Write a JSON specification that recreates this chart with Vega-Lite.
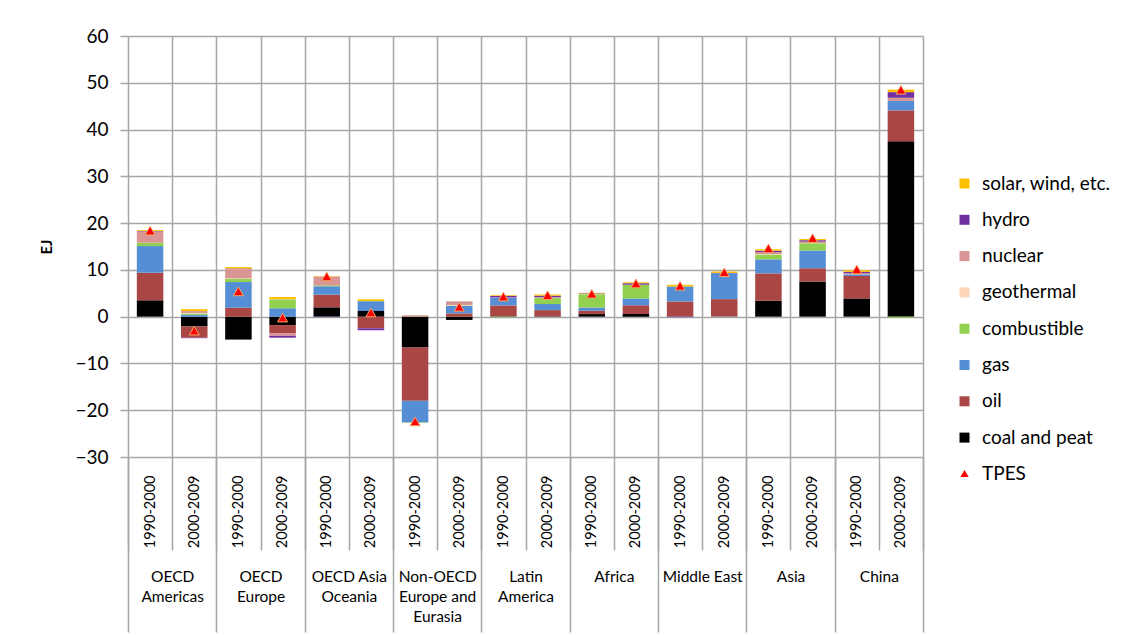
{
  "$schema": "https://vega.github.io/schema/vega-lite/v6.json",
  "width": 795,
  "height": 421,
  "autosize": "none",
  "padding": {"left": 128, "top": 36, "right": 204, "bottom": 178},
  "background": "white",
  "config": {
    "font": "Lato",
    "view": {"stroke": null},
    "axis": {"labelFont": "Lato", "titleFont": "Lato", "labelColor": "#000000", "titleColor": "#000000"},
    "legend": {"labelFont": "Lato", "labelColor": "#000000"}
  },
  "data": {
    "values": [
      {"region": "OECD|Americas", "period": "1990-2000", "coal": 3.5, "oil": 5.9, "gas": 5.7, "combustible": 0.7, "geothermal": 0, "nuclear": 2.4, "hydro": 0.1, "solar": 0.2, "TPES": 18.4},
      {"region": "OECD|Americas", "period": "2000-2009", "coal": -2.1, "oil": -2.4, "gas": 0.4, "combustible": 0.3, "geothermal": 0.1, "nuclear": 0.4, "hydro": -0.1, "solar": 0.4, "TPES": -3.0},
      {"region": "OECD|Europe", "period": "1990-2000", "coal": -4.9, "oil": 1.9, "gas": 5.5, "combustible": 0.7, "geothermal": 0.1, "nuclear": 2.0, "hydro": 0.1, "solar": 0.3, "TPES": 5.4},
      {"region": "OECD|Europe", "period": "2000-2009", "coal": -1.8, "oil": -1.8, "gas": 1.8, "combustible": 1.9, "geothermal": 0.05, "nuclear": -0.5, "hydro": -0.4, "solar": 0.45, "TPES": -0.2},
      {"region": "OECD Asia|Oceania", "period": "1990-2000", "coal": 2.0, "oil": 2.7, "gas": 1.8, "combustible": 0.2, "geothermal": 0, "nuclear": 1.9, "hydro": -0.1, "solar": 0.1, "TPES": 8.6},
      {"region": "OECD Asia|Oceania", "period": "2000-2009", "coal": 1.2, "oil": -2.4, "gas": 2.1, "combustible": 0.05, "geothermal": 0, "nuclear": -0.1, "hydro": -0.4, "solar": 0.35, "TPES": 0.9},
      {"region": "Non-OECD|Europe and|Eurasia", "period": "1990-2000", "coal": -6.6, "oil": -11.4, "gas": -4.6, "combustible": -0.1, "geothermal": 0, "nuclear": 0.2, "hydro": 0.05, "solar": 0.05, "TPES": -22.4},
      {"region": "Non-OECD|Europe and|Eurasia", "period": "2000-2009", "coal": -0.7, "oil": 0.7, "gas": 1.6, "combustible": 0.1, "geothermal": 0.1, "nuclear": 0.6, "hydro": 0.1, "solar": 0.05, "TPES": 2.1},
      {"region": "Latin|America", "period": "1990-2000", "coal": 0.1, "oil": 2.3, "gas": 1.6, "combustible": -0.1, "geothermal": 0.05, "nuclear": 0.05, "hydro": 0.35, "solar": 0.15, "TPES": 4.3},
      {"region": "Latin|America", "period": "2000-2009", "coal": 0.1, "oil": 1.3, "gas": 1.3, "combustible": 1.35, "geothermal": 0.05, "nuclear": 0.05, "hydro": 0.35, "solar": 0.25, "TPES": 4.6},
      {"region": "Africa", "period": "1990-2000", "coal": 0.55, "oil": 0.7, "gas": 0.7, "combustible": 2.85, "geothermal": 0.05, "nuclear": 0.05, "hydro": 0.1, "solar": 0.1, "TPES": 4.9},
      {"region": "Africa", "period": "2000-2009", "coal": 0.55, "oil": 1.9, "gas": 1.45, "combustible": 2.85, "geothermal": 0.05, "nuclear": 0, "hydro": 0.35, "solar": 0.2, "TPES": 7.1},
      {"region": "Middle East", "period": "1990-2000", "coal": 0.05, "oil": 3.2, "gas": 3.2, "combustible": 0, "geothermal": 0, "nuclear": 0, "hydro": -0.1, "solar": 0.35, "TPES": 6.6},
      {"region": "Middle East", "period": "2000-2009", "coal": 0.05, "oil": 3.7, "gas": 5.55, "combustible": 0, "geothermal": 0, "nuclear": 0, "hydro": 0.05, "solar": 0.3, "TPES": 9.5},
      {"region": "Asia", "period": "1990-2000", "coal": 3.4, "oil": 5.85, "gas": 3.0, "combustible": 1.05, "geothermal": 0.1, "nuclear": 0.4, "hydro": 0.3, "solar": 0.3, "TPES": 14.6},
      {"region": "Asia", "period": "2000-2009", "coal": 7.5, "oil": 2.85, "gas": 3.8, "combustible": 1.55, "geothermal": 0.05, "nuclear": 0.3, "hydro": 0.3, "solar": 0.25, "TPES": 16.8},
      {"region": "China", "period": "1990-2000", "coal": 3.9, "oil": 4.8, "gas": 0.35, "combustible": 0, "geothermal": 0, "nuclear": 0.25, "hydro": 0.3, "solar": 0.35, "TPES": 10.1},
      {"region": "China", "period": "2000-2009", "coal": 37.5, "oil": 6.6, "gas": 2.0, "combustible": -0.2, "geothermal": 0, "nuclear": 0.7, "hydro": 1.2, "solar": 0.55, "TPES": 48.5}
    ]
  },
  "layer": [
    {
      "transform": [
        {"calculate": "datum.region + ' ' + datum.period", "as": "bar"},
        {"fold": ["coal", "oil", "gas", "combustible", "geothermal", "nuclear", "hydro", "solar"], "as": ["source", "EJ"]},
        {"calculate": "indexof(['coal', 'oil', 'gas', 'combustible', 'geothermal', 'nuclear', 'hydro', 'solar'], datum.source)", "as": "stackRank"}
      ],
      "mark": {"type": "bar", "width": {"band": 0.6}},
      "encoding": {
        "x": {
          "field": "bar", "type": "nominal", "sort": null,
          "scale": {"paddingInner": 0, "paddingOuter": 0},
          "axis": {
            "title": null, "orient": "bottom", "tickBand": "extent",
            "grid": true, "gridColor": "#A6A6A6", "gridWidth": 1.5,
            "domain": false, "ticks": true, "tickSize": 93, "tickColor": "#A6A6A6", "tickWidth": 1.5,
            "labelAngle": -90, "labelAlign": "right", "labelBaseline": "middle",
            "labelPadding": -75, "labelOverlap": false,
            "labelExpr": "slice(datum.label, -9)", "labelFontSize": 14.5
          }
        },
        "y": {
          "field": "EJ", "type": "quantitative", "stack": "zero", "title": "EJ",
          "scale": {"domain": [-30, 60], "nice": false},
          "axis": {
            "values": [-30, -20, -10, 0, 10, 20, 30, 40, 50, 60],
            "grid": true, "gridColor": "#A6A6A6", "gridWidth": 1.5,
            "domain": false, "tickSize": 8, "tickColor": "#A6A6A6", "tickWidth": 1.5,
            "labelFontSize": 19, "labelPadding": 12,
            "titleFontSize": 15, "titleFontWeight": "bold", "titlePadding": 20
          }
        },
        "order": {"field": "stackRank", "type": "quantitative", "sort": "ascending"},
        "color": {
          "field": "source", "type": "nominal",
          "scale": {
            "domain": ["coal", "oil", "gas", "combustible", "geothermal", "nuclear", "hydro", "solar"],
            "range": ["#000000", "#AA4643", "#558ED5", "#92D050", "#FCD5B5", "#D99694", "#7030A0", "#FFC000"]
          },
          "legend": {
            "orient": "none", "legendX": 827, "legendY": 138, "title": null, "padding": 0,
            "values": ["solar", "hydro", "nuclear", "geothermal", "combustible", "gas", "oil", "coal"],
            "labelExpr": "datum.label == 'solar' ? 'solar, wind, etc.' : datum.label == 'coal' ? 'coal and peat' : datum.label",
            "symbolType": "square", "symbolSize": 100, "symbolStrokeWidth": 0,
            "labelFontSize": 19, "labelOffset": 8, "rowPadding": 16.3
          }
        }
      }
    },
    {
      "transform": [
        {"calculate": "datum.region + ' ' + datum.period", "as": "bar"}
      ],
      "mark": {"type": "point", "shape": "triangle-up", "filled": true, "size": 100, "opacity": 1, "stroke": "#EFA86A", "strokeWidth": 1},
      "encoding": {
        "x": {"field": "bar", "type": "nominal", "sort": null, "scale": {"paddingInner": 0, "paddingOuter": 0}, "axis": null},
        "y": {"field": "TPES", "type": "quantitative", "title": "EJ", "scale": {"domain": [-30, 60], "nice": false}},
        "fill": {
          "datum": "TPES",
          "scale": {"range": ["#FF0000"]},
          "legend": {
            "orient": "none", "legendX": 827, "legendY": 428, "title": null, "padding": 0,
            "symbolType": "triangle-up", "symbolSize": 70, "symbolStrokeWidth": 0,
            "labelFontSize": 19, "labelOffset": 8
          }
        }
      }
    },
    {
      "mark": {"type": "point", "opacity": 0},
      "encoding": {
        "x": {
          "field": "region", "type": "nominal", "sort": null,
          "scale": {"paddingInner": 0, "paddingOuter": 0},
          "axis": {
            "title": null, "orient": "bottom", "tickBand": "extent", "grid": false,
            "domain": false, "ticks": true, "tickSize": 175, "tickColor": "#A6A6A6", "tickWidth": 1.5,
            "labelAngle": 0, "labelAlign": "center", "labelBaseline": "top",
            "labelPadding": -63, "labelOverlap": false, "labelLineHeight": 20,
            "labelExpr": "split(datum.label, '|')", "labelFontSize": 15.5
          }
        }
      }
    }
  ],
  "resolve": {"scale": {"x": "independent"}, "axis": {"x": "independent"}}
}
